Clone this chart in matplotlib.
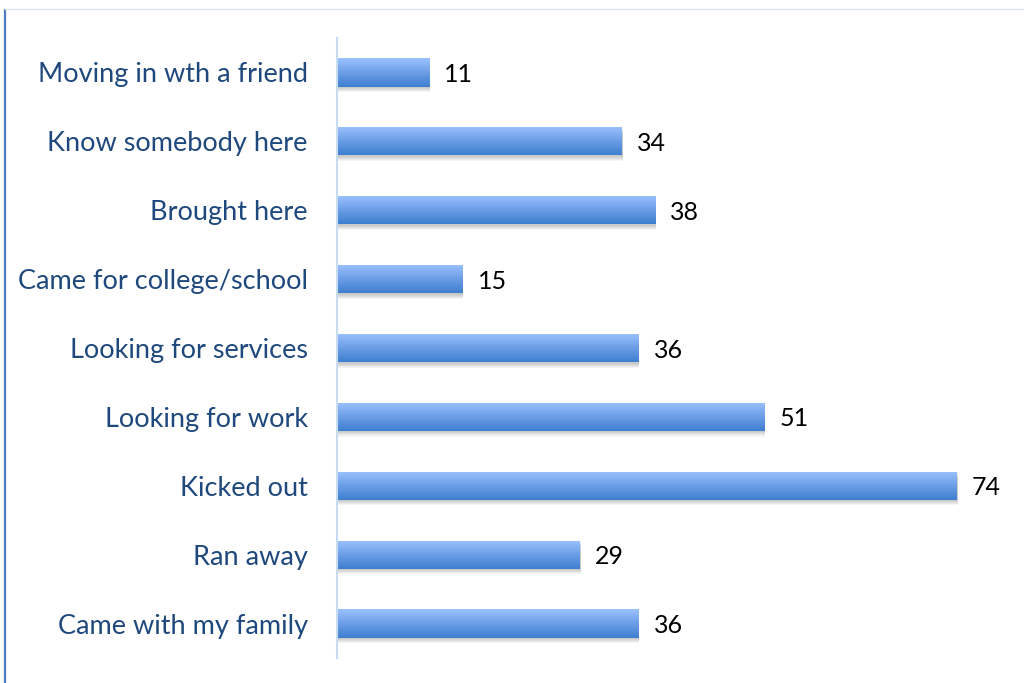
import numpy as np
import matplotlib.pyplot as plt
from matplotlib.colors import LinearSegmentedColormap
from matplotlib.patches import Rectangle
from matplotlib.lines import Line2D

reasons = [
    "Came with my family",
    "Ran away",
    "Kicked out",
    "Looking for work",
    "Looking for services",
    "Came for college/school",
    "Brought here",
    "Know somebody here",
    "Moving in wth a friend",
]
counts = [36, 29, 74, 51, 36, 15, 38, 34, 11]

plt.rcParams['font.family'] = ['Lato', 'DejaVu Sans']

fig = plt.figure(figsize=(10.24, 6.83), dpi=100)
ax = fig.add_axes([337 / 1024, 1 - 658 / 683, 670 / 1024, 620 / 683])

# outer frame: blue rule on the left, faint grey rule on top
fig.add_artist(Line2D([4.5 / 1024, 4.5 / 1024], [0, 1 - 10 / 683],
                      color="#4a7cc0", lw=1.6, transform=fig.transFigure))
fig.add_artist(Line2D([4.5 / 1024, 1], [1 - 9 / 683, 1 - 9 / 683],
                      color="#dde3ea", lw=1.0, transform=fig.transFigure))

grad = LinearSegmentedColormap.from_list("bar", ["#3f7fd0", "#6c9ee6", "#9cc2ff"])
ramp = np.linspace(0, 1, 64).reshape(-1, 1)
h = 0.41
y = np.arange(len(reasons))

for yi, v in zip(y, counts):
    # soft drop shadow
    for k in range(5):
        off = 0.02 + k * 0.015
        ax.add_patch(Rectangle((0.1, yi - h / 2 - off), v, h, color="black",
                               alpha=0.045, lw=0, zorder=1))
    bar = ax.barh(yi, v, height=h, color="none", zorder=2)[0]
    img = ax.imshow(ramp, cmap=grad, aspect="auto", origin="lower",
                    extent=[0, v, yi - h / 2, yi + h / 2], zorder=2)
    img.set_clip_path(bar)
    ax.text(v + 1.8, yi - 0.03, str(v), va="center", ha="left",
            fontsize=18, color="black")

ax.set_xlim(0, 80)
ax.set_ylim(-0.5, len(reasons) - 0.5)
ax.set_yticks(y)
ax.set_yticklabels(reasons, fontsize=19.5, color="#1f497d")
ax.tick_params(axis="y", length=0, pad=21)
ax.set_xticks([])
for s in ["top", "right", "bottom"]:
    ax.spines[s].set_visible(False)
ax.spines["left"].set_color("#c8dcf0")
ax.spines["left"].set_linewidth(1.5)

fig.savefig("out.png", dpi=100)
